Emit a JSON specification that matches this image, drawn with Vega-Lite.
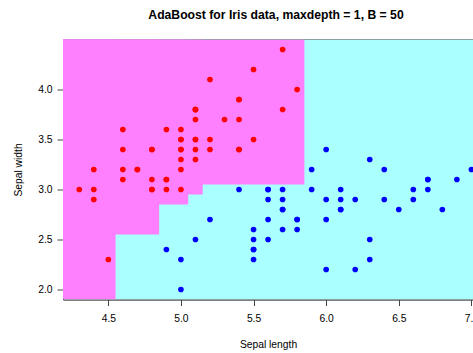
{
  "$schema": "https://vega.github.io/schema/vega-lite/v6.json",
  "autosize": {"type": "none"},
  "padding": {"left": 63, "top": 39.5, "right": 0, "bottom": 53.5},
  "width": 410,
  "height": 260,
  "background": "#ffffff",
  "title": {
    "text": "AdaBoost for Iris data, maxdepth = 1, B = 50",
    "font": "Liberation Sans",
    "fontSize": 12.2,
    "fontWeight": "bold",
    "color": "#000000",
    "anchor": "middle",
    "baseline": "middle",
    "offset": 12,
    "dx": 8
  },
  "config": {
    "view": {"stroke": "#000000", "strokeWidth": 1},
    "font": "Liberation Sans"
  },
  "datasets": {
    "regions": [
      {"region": "other", "x1": 4.188, "x2": 7.108, "y1": 1.9, "y2": 4.5},
      {"region": "setosa", "x1": 4.188, "x2": 4.55, "y1": 1.9, "y2": 4.5},
      {"region": "setosa", "x1": 4.188, "x2": 4.85, "y1": 2.55, "y2": 4.5},
      {"region": "setosa", "x1": 4.188, "x2": 5.05, "y1": 2.85, "y2": 4.5},
      {"region": "setosa", "x1": 4.188, "x2": 5.15, "y1": 2.95, "y2": 4.5},
      {"region": "setosa", "x1": 4.188, "x2": 5.85, "y1": 3.05, "y2": 4.5}
    ],
    "points": [
      {"species": "setosa", "sl": 5.1, "sw": 3.5},
      {"species": "setosa", "sl": 4.9, "sw": 3.0},
      {"species": "setosa", "sl": 4.7, "sw": 3.2},
      {"species": "setosa", "sl": 4.6, "sw": 3.1},
      {"species": "setosa", "sl": 5.0, "sw": 3.6},
      {"species": "setosa", "sl": 5.4, "sw": 3.9},
      {"species": "setosa", "sl": 4.6, "sw": 3.4},
      {"species": "setosa", "sl": 5.0, "sw": 3.4},
      {"species": "setosa", "sl": 4.4, "sw": 2.9},
      {"species": "setosa", "sl": 4.9, "sw": 3.1},
      {"species": "setosa", "sl": 5.4, "sw": 3.7},
      {"species": "setosa", "sl": 4.8, "sw": 3.4},
      {"species": "setosa", "sl": 4.8, "sw": 3.0},
      {"species": "setosa", "sl": 4.3, "sw": 3.0},
      {"species": "setosa", "sl": 5.8, "sw": 4.0},
      {"species": "setosa", "sl": 5.7, "sw": 4.4},
      {"species": "setosa", "sl": 5.4, "sw": 3.9},
      {"species": "setosa", "sl": 5.1, "sw": 3.5},
      {"species": "setosa", "sl": 5.7, "sw": 3.8},
      {"species": "setosa", "sl": 5.1, "sw": 3.8},
      {"species": "setosa", "sl": 5.4, "sw": 3.4},
      {"species": "setosa", "sl": 5.1, "sw": 3.7},
      {"species": "setosa", "sl": 4.6, "sw": 3.6},
      {"species": "setosa", "sl": 5.1, "sw": 3.3},
      {"species": "setosa", "sl": 4.8, "sw": 3.4},
      {"species": "setosa", "sl": 5.0, "sw": 3.0},
      {"species": "setosa", "sl": 5.0, "sw": 3.4},
      {"species": "setosa", "sl": 5.2, "sw": 3.5},
      {"species": "setosa", "sl": 5.2, "sw": 3.4},
      {"species": "setosa", "sl": 4.7, "sw": 3.2},
      {"species": "setosa", "sl": 4.8, "sw": 3.1},
      {"species": "setosa", "sl": 5.4, "sw": 3.4},
      {"species": "setosa", "sl": 5.2, "sw": 4.1},
      {"species": "setosa", "sl": 5.5, "sw": 4.2},
      {"species": "setosa", "sl": 4.9, "sw": 3.1},
      {"species": "setosa", "sl": 5.0, "sw": 3.2},
      {"species": "setosa", "sl": 5.5, "sw": 3.5},
      {"species": "setosa", "sl": 4.9, "sw": 3.6},
      {"species": "setosa", "sl": 4.4, "sw": 3.0},
      {"species": "setosa", "sl": 5.1, "sw": 3.4},
      {"species": "setosa", "sl": 5.0, "sw": 3.5},
      {"species": "setosa", "sl": 4.5, "sw": 2.3},
      {"species": "setosa", "sl": 4.4, "sw": 3.2},
      {"species": "setosa", "sl": 5.0, "sw": 3.5},
      {"species": "setosa", "sl": 5.1, "sw": 3.8},
      {"species": "setosa", "sl": 4.8, "sw": 3.0},
      {"species": "setosa", "sl": 5.1, "sw": 3.8},
      {"species": "setosa", "sl": 4.6, "sw": 3.2},
      {"species": "setosa", "sl": 5.3, "sw": 3.7},
      {"species": "setosa", "sl": 5.0, "sw": 3.3},
      {"species": "versicolor", "sl": 7.0, "sw": 3.2},
      {"species": "versicolor", "sl": 6.4, "sw": 3.2},
      {"species": "versicolor", "sl": 6.9, "sw": 3.1},
      {"species": "versicolor", "sl": 5.5, "sw": 2.3},
      {"species": "versicolor", "sl": 6.5, "sw": 2.8},
      {"species": "versicolor", "sl": 5.7, "sw": 2.8},
      {"species": "versicolor", "sl": 6.3, "sw": 3.3},
      {"species": "versicolor", "sl": 4.9, "sw": 2.4},
      {"species": "versicolor", "sl": 6.6, "sw": 2.9},
      {"species": "versicolor", "sl": 5.2, "sw": 2.7},
      {"species": "versicolor", "sl": 5.0, "sw": 2.0},
      {"species": "versicolor", "sl": 5.9, "sw": 3.0},
      {"species": "versicolor", "sl": 6.0, "sw": 2.2},
      {"species": "versicolor", "sl": 6.1, "sw": 2.9},
      {"species": "versicolor", "sl": 5.6, "sw": 2.9},
      {"species": "versicolor", "sl": 6.7, "sw": 3.1},
      {"species": "versicolor", "sl": 5.6, "sw": 3.0},
      {"species": "versicolor", "sl": 5.8, "sw": 2.7},
      {"species": "versicolor", "sl": 6.2, "sw": 2.2},
      {"species": "versicolor", "sl": 5.6, "sw": 2.5},
      {"species": "versicolor", "sl": 5.9, "sw": 3.2},
      {"species": "versicolor", "sl": 6.1, "sw": 2.8},
      {"species": "versicolor", "sl": 6.3, "sw": 2.5},
      {"species": "versicolor", "sl": 6.1, "sw": 2.8},
      {"species": "versicolor", "sl": 6.4, "sw": 2.9},
      {"species": "versicolor", "sl": 6.6, "sw": 3.0},
      {"species": "versicolor", "sl": 6.8, "sw": 2.8},
      {"species": "versicolor", "sl": 6.7, "sw": 3.0},
      {"species": "versicolor", "sl": 6.0, "sw": 2.9},
      {"species": "versicolor", "sl": 5.7, "sw": 2.6},
      {"species": "versicolor", "sl": 5.5, "sw": 2.4},
      {"species": "versicolor", "sl": 5.5, "sw": 2.4},
      {"species": "versicolor", "sl": 5.8, "sw": 2.7},
      {"species": "versicolor", "sl": 6.0, "sw": 2.7},
      {"species": "versicolor", "sl": 5.4, "sw": 3.0},
      {"species": "versicolor", "sl": 6.0, "sw": 3.4},
      {"species": "versicolor", "sl": 6.7, "sw": 3.1},
      {"species": "versicolor", "sl": 6.3, "sw": 2.3},
      {"species": "versicolor", "sl": 5.6, "sw": 3.0},
      {"species": "versicolor", "sl": 5.5, "sw": 2.5},
      {"species": "versicolor", "sl": 5.5, "sw": 2.6},
      {"species": "versicolor", "sl": 6.1, "sw": 3.0},
      {"species": "versicolor", "sl": 5.8, "sw": 2.6},
      {"species": "versicolor", "sl": 5.0, "sw": 2.3},
      {"species": "versicolor", "sl": 5.6, "sw": 2.7},
      {"species": "versicolor", "sl": 5.7, "sw": 3.0},
      {"species": "versicolor", "sl": 5.7, "sw": 2.9},
      {"species": "versicolor", "sl": 6.2, "sw": 2.9},
      {"species": "versicolor", "sl": 5.1, "sw": 2.5},
      {"species": "versicolor", "sl": 5.7, "sw": 2.8}
    ]
  },
  "resolve": {"scale": {"color": "independent"}},
  "layer": [
    {
      "data": {"name": "regions"},
      "mark": {"type": "rect", "clip": true, "strokeWidth": 0},
      "encoding": {
        "x": {
          "field": "x1", "type": "quantitative",
          "scale": {"domain": [4.188, 7.011], "nice": false, "zero": false},
          "axis": {
            "values": [4.5, 5.0, 5.5, 6.0, 6.5, 7.0],
            "format": ".1f",
            "grid": false,
            "domain": false,
            "tickSize": 6,
            "tickColor": "#444444",
            "labelFont": "Liberation Sans",
            "labelFontSize": 10.3,
            "labelColor": "#000000",
            "labelPadding": 8,
            "labelFlush": false,
            "labelOverlap": false,
            "titleFont": "Liberation Sans",
            "titleFontSize": 10.3,
            "titleFontWeight": "normal",
            "titleColor": "#000000",
            "titleY": 45,
            "titleBaseline": "middle"
          },
          "title": "Sepal length"
        },
        "x2": {"field": "x2"},
        "y": {
          "field": "y1", "type": "quantitative",
          "scale": {"domain": [1.9, 4.5], "nice": false, "zero": false},
          "axis": {
            "values": [2.0, 2.5, 3.0, 3.5, 4.0],
            "format": ".1f",
            "grid": false,
            "domain": false,
            "tickSize": 6,
            "tickColor": "#444444",
            "labelFont": "Liberation Sans",
            "labelFontSize": 10.3,
            "labelColor": "#000000",
            "labelPadding": 5,
            "labelFlush": false,
            "labelOverlap": false,
            "titleFont": "Liberation Sans",
            "titleFontSize": 10.3,
            "titleFontWeight": "normal",
            "titleColor": "#000000",
            "titleX": -45,
            "titleY": 130,
            "titleAngle": -90,
            "titleBaseline": "middle"
          },
          "title": "Sepal width"
        },
        "y2": {"field": "y2"},
        "color": {
          "field": "region", "type": "nominal",
          "scale": {"domain": ["setosa", "other"], "range": ["#FF80FF", "#AAFFFF"]},
          "legend": null
        }
      }
    },
    {
      "data": {"name": "points"},
      "mark": {"type": "circle", "size": 32, "opacity": 1},
      "encoding": {
        "x": {"field": "sl", "type": "quantitative"},
        "y": {"field": "sw", "type": "quantitative"},
        "color": {
          "field": "species", "type": "nominal",
          "scale": {"domain": ["setosa", "versicolor"], "range": ["#FF0000", "#0000FF"]},
          "legend": null
        }
      }
    }
  ]
}
